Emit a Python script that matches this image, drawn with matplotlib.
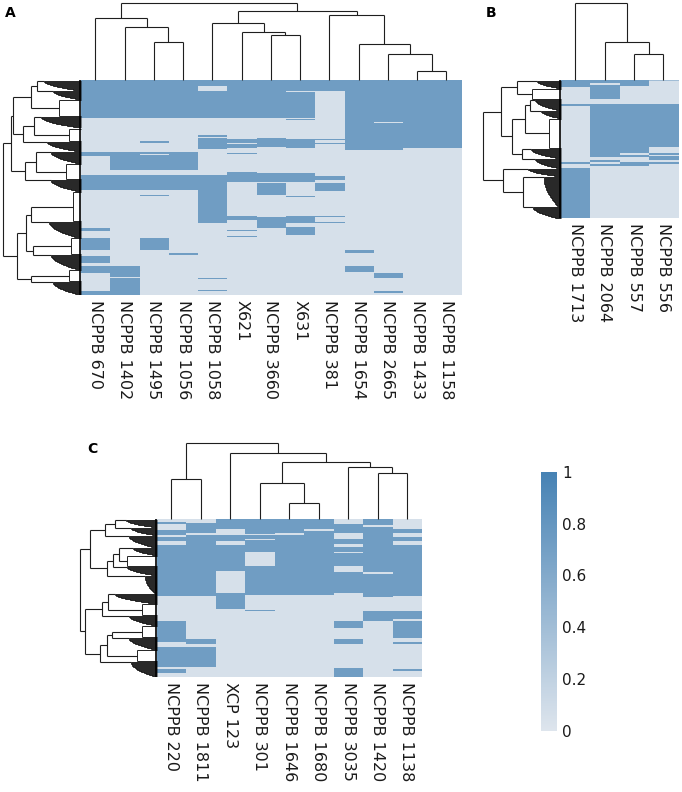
import numpy as np
import matplotlib
matplotlib.use('Agg')
import matplotlib.pyplot as plt
from matplotlib.collections import LineCollection
from matplotlib.colors import LinearSegmentedColormap, Normalize
from matplotlib.cm import ScalarMappable

# ---- panel A data ----
a_labels = ['NCPPB 670', 'NCPPB 1402', 'NCPPB 1495', 'NCPPB 1056', 'NCPPB 1058', 'X621',
            'NCPPB 3660', 'X631', 'NCPPB 381', 'NCPPB 1654', 'NCPPB 2665', 'NCPPB 1433', 'NCPPB 1158']
a_nrows = 215
# blue stretches per column (row start, row end)
a_blue = [
    [(0, 38), (72, 76), (95, 110), (148, 151), (158, 170), (176, 183), (186, 193), (211, 215)],
    [(0, 38), (72, 90), (95, 110), (186, 197), (198, 215)],
    [(0, 38), (61, 63), (72, 74), (75, 90), (95, 110), (115, 116), (158, 170)],
    [(0, 38), (72, 90), (95, 110), (173, 175)],
    [(0, 6), (11, 38), (55, 57), (58, 69), (95, 143), (198, 199), (210, 211)],
    [(0, 38), (59, 63), (64, 68), (73, 74), (92, 102), (136, 140), (150, 151), (156, 157)],
    [(0, 38), (58, 67), (93, 102), (103, 115), (137, 148)],
    [(0, 11), (12, 38), (39, 40), (59, 68), (93, 102), (116, 117), (136, 143), (147, 155)],
    [(0, 11), (59, 60), (63, 64), (96, 100), (103, 111), (136, 137), (142, 143)],
    [(0, 70), (170, 173), (186, 192)],
    [(0, 42), (43, 70), (193, 198), (211, 213)],
    [(0, 68)],
    [(0, 68)],
]
a_col_merges = [(2, 3, 37.7), (1, 13, 53.3), (0, 14, 61.7), (6, 7, 45.3), (5, 16, 47.7),
                (4, 17, 57.3), (11, 12, 9), (10, 19, 26), (9, 20, 35.7), (8, 21, 65),
                (18, 22, 69), (15, 23, 76.7)]
# row groups: (start, end, depth, kind)
a_row_groups = [(0, 10, 37, 'dense'), (10, 19, 28, 'dense'), (19, 37, 22, 'box'),
                (37, 48, 40, 'dense'), (48, 62, 12, 'box'), (62, 72, 34, 'dense'),
                (72, 84, 30, 'dense'), (84, 100, 15, 'box'), (100, 112, 30, 'dense'),
                (112, 142, 8, 'box'), (142, 158, 32, 'dense'), (158, 175, 10, 'box'),
                (175, 190, 30, 'dense'), (190, 202, 12, 'box'), (202, 215, 28, 'dense')]
a_row_merges = [(0, 1, 44), (15, 2, 50), (3, 4, 47), (17, 5, 58), (16, 18, 68),
                (6, 7, 45), (20, 8, 56), (19, 21, 70), (9, 10, 50), (11, 12, 48),
                (23, 24, 55), (13, 14, 50), (25, 26, 64), (22, 27, 78)]

# ---- panel B data ----
b_labels = ['NCPPB 1713', 'NCPPB 2064', 'NCPPB 557', 'NCPPB 556']
b_nrows = 138
b_blue = [
    [(0, 8), (25, 27), (82, 84), (88, 138)],
    [(0, 4), (6, 20), (25, 77), (80, 82), (84, 86)],
    [(0, 7), (25, 73), (75, 77), (82, 86)],
    [(0, 2, 0.4), (25, 68), (73, 75), (76, 80), (82, 84)],
]
b_col_merges = [(2, 3, 26), (1, 4, 37.7), (0, 5, 76.7)]
b_row_groups = [(0, 8, 24, 'dense'), (8, 19, 29, 'box'), (19, 30, 26, 'dense'),
                (30, 38, 20, 'dense'), (38, 68, 12, 'box'), (68, 78, 30, 'dense'),
                (78, 88, 26, 'dense'), (88, 96, 33, 'dense'), (96, 126, 17, 'dense'),
                (126, 138, 28, 'dense')]
b_row_merges = [(0, 1, 44), (2, 3, 31), (11, 4, 36), (5, 6, 39), (12, 13, 49),
                (10, 14, 60), (8, 9, 38), (7, 16, 58), (15, 17, 77.5)]

# ---- panel C data ----
c_labels = ['NCPPB 220', 'NCPPB 1811', 'XCP 123', 'NCPPB 301', 'NCPPB 1646', 'NCPPB 1680',
            'NCPPB 3035', 'NCPPB 1420', 'NCPPB 1138']
c_nrows = 157
c_blue = [
    [(3, 5), (11, 16), (18, 22), (26, 77), (101, 122), (127, 147), (149, 153)],
    [(4, 14), (16, 77), (119, 124), (127, 147)],
    [(0, 10), (16, 22), (26, 52), (74, 89)],
    [(0, 15), (16, 20), (21, 33), (47, 76), (90, 91)],
    [(0, 14), (16, 76)],
    [(0, 10), (12, 76)],
    [(5, 14), (20, 25), (28, 33), (34, 47), (53, 74), (101, 108), (119, 124), (148, 157)],
    [(0, 6), (8, 53), (55, 78), (91, 101)],
    [(10, 14), (18, 22), (26, 77), (91, 99), (101, 118), (122, 124), (149, 151)],
]
c_col_merges = [(0, 1, 40.3), (4, 5, 16), (3, 10, 36), (7, 8, 46), (6, 12, 52.3),
                (11, 13, 57.7), (2, 14, 66), (9, 15, 76)]
c_row_groups = [(0, 8, 31, 'dense'), (8, 16, 26, 'dense'), (16, 28, 28, 'dense'),
                (28, 36, 24, 'dense'), (36, 47, 30, 'box'), (47, 56, 30, 'dense'),
                (56, 74, 12, 'dense'), (74, 84, 42, 'dense'), (84, 96, 15, 'box'),
                (96, 106, 28, 'dense'), (106, 118, 15, 'box'), (118, 130, 28, 'dense'),
                (130, 142, 20, 'box'), (142, 157, 26, 'dense')]
c_row_merges = [(0, 1, 42), (14, 2, 52), (3, 4, 38), (16, 5, 44), (17, 6, 50),
                (15, 18, 67), (7, 8, 49), (20, 9, 55), (10, 11, 45), (22, 12, 50),
                (23, 13, 57), (21, 24, 72), (19, 25, 77)]

cbar_ticks = [0, 0.2, 0.4, 0.6, 0.8, 1]
cbar_ticklabels = ['0', '0.2', '0.4', '0.6', '0.8', '1']

W, H = 682, 792
fig = plt.figure(figsize=(W / 100, H / 100), dpi=100)
cmap = LinearSegmentedColormap.from_list('pres', ['#dee5ed', '#4682b4'])
BG, HI = 0.05, 0.72
LC = '#1e1e1e'


def px_axes(x0, y0, x1, y1):
    ax = fig.add_axes([x0 / W, 1 - y1 / H, (x1 - x0) / W, (y1 - y0) / H])
    ax.axis('off')
    return ax


def build(nrows, cols):
    m = np.full((nrows, len(cols)), BG)
    for j, col in enumerate(cols):
        for seg in col:
            v = seg[2] if len(seg) > 2 else HI
            m[seg[0]:seg[1], j] = v
    return m


def tree_segs(pos, hh, merges):
    pos, hh = list(pos), list(hh)
    segs = []
    for a, b, h in merges:
        pa, pb = pos[a], pos[b]
        segs += [[(pa, hh[a]), (pa, h)], [(pa, h), (pb, h)], [(pb, h), (pb, hh[b])]]
        pos.append((pa + pb) / 2)
        hh.append(h)
    return segs


def col_dendro(ax, n, merges, top):
    segs = tree_segs([i + 0.5 for i in range(n)], [0.0] * n, merges)
    ax.add_collection(LineCollection(segs, colors=LC, linewidths=0.8, clip_on=False))
    ax.set_xlim(0, n)
    ax.set_ylim(0, top)


def row_dendro(ax, nrows, groups, merges, width):
    segs, pos, hh = [], [], []
    for r0, r1, d, kind in groups:
        if kind == 'box':
            ya, yb = r0 + 0.5, r1 - 0.5
            segs += [[(0, ya), (d, ya)], [(0, yb), (d, yb)], [(d, ya), (d, yb)]]
            pos.append((ya + yb) / 2)
        else:
            # collapsed chain of near-identical rows: a tapering ladder
            n = r1 - r0
            L = [d * (1 - 0.8 * (i / max(n - 1, 1)) ** 2) for i in range(n)]
            for i in range(n):
                y = r0 + i + 0.5
                segs.append([(0, y), (L[i], y)])
                if i < n - 1:
                    segs.append([(L[i + 1], y), (L[i + 1], y + 1)])
            pos.append(r0 + 0.5)
        hh.append(d)
    tsegs = tree_segs(pos, hh, merges)
    tsegs = [[(p[1], p[0]) for p in s] for s in tsegs]
    ax.add_collection(LineCollection(segs, colors='black', linewidths=0.6, clip_on=False))
    ax.add_collection(LineCollection(tsegs, colors=LC, linewidths=0.8, clip_on=False))
    ax.plot([0.8, 0.8], [0, nrows], color='black', lw=1.2)
    ax.set_xlim(width, 0)
    ax.set_ylim(nrows, 0)


def panel(hm_box, dend_top, dend_left, labels, nrows, cols, col_merges, row_groups, row_merges):
    x0, y0, x1, y1 = hm_box
    ax = px_axes(x0, y0, x1, y1)
    ax.imshow(build(nrows, cols), cmap=cmap, vmin=0, vmax=1, aspect='auto',
              interpolation='nearest', extent=(0, len(labels), nrows, 0))
    col_dendro(px_axes(x0, dend_top, x1, y0), len(labels), col_merges, y0 - dend_top)
    row_dendro(px_axes(dend_left, y0, x0, y1), nrows, row_groups, row_merges, x0 - dend_left)
    cw = (x1 - x0) / len(labels)
    for i, lab in enumerate(labels):
        fig.text((x0 + cw * (i + 0.5)) / W, 1 - (y1 + 5) / H, lab, rotation=270,
                 ha='center', va='top', fontsize=11.5, color='#1a1a1a')


panel((80.7, 80, 461, 295), 3.3, 0, a_labels, a_nrows, a_blue, a_col_merges,
      a_row_groups, a_row_merges)
panel((560.7, 80, 678, 218.3), 3.3, 480, b_labels, b_nrows, b_blue, b_col_merges,
      b_row_groups, b_row_merges)
panel((156.7, 519.3, 421.7, 676.7), 443, 76, c_labels, c_nrows, c_blue, c_col_merges,
      c_row_groups, c_row_merges)

for letter, x, y in [('A', 5, 6), ('B', 486, 6), ('C', 87, 442)]:
    fig.text(x / W, 1 - y / H, letter, fontsize=10, fontweight='bold', ha='left', va='top')

cax = fig.add_axes([540.7 / W, 1 - 731 / H, 16.3 / W, (731 - 471.7) / H])
cb = fig.colorbar(ScalarMappable(norm=Normalize(0, 1), cmap=cmap), cax=cax)
cb.outline.set_visible(False)
cb.set_ticks(cbar_ticks)
cb.set_ticklabels(cbar_ticklabels)
cax.tick_params(length=0, labelsize=11, pad=3.5, labelcolor='#1a1a1a')

fig.savefig('out.png', dpi=100)
